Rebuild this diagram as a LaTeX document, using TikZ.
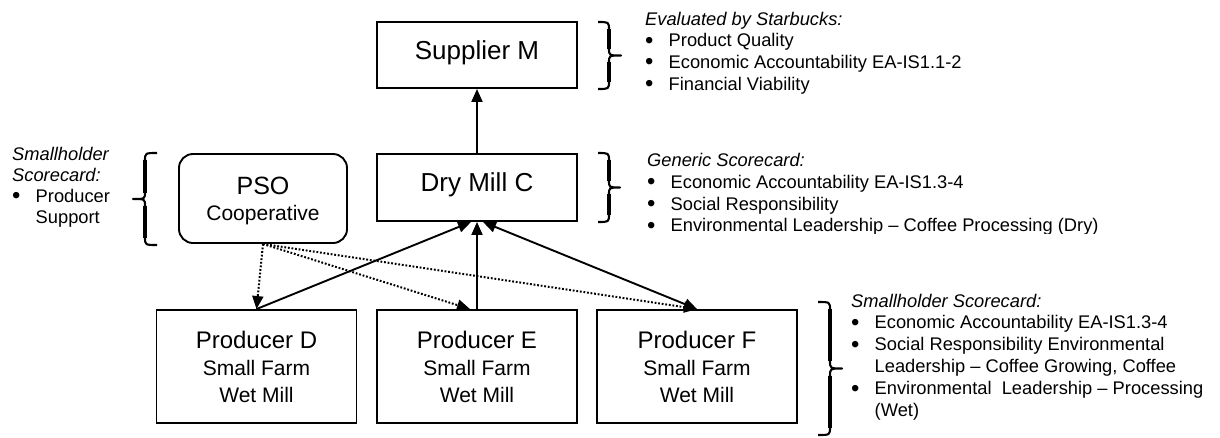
\documentclass[tikz,border=0pt]{standalone}
\usepackage{fontspec}
\setmainfont{Liberation Sans}
\usetikzlibrary{arrows.meta}
\newcommand{\bul}{\makebox[23.5pt][l]{\raisebox{-1.4pt}{\scalebox{1.3}{\textbullet}}}}
\newcommand{\ind}{\hspace*{23.5pt}}
\begin{document}
\begin{tikzpicture}[x=1pt,y=-1pt,
  box/.style={draw, line width=1.9pt, inner sep=0pt, minimum width=200pt, align=center},
  arr/.style={line width=1.9pt, -{Triangle[length=13pt,width=11pt]}},
  arrboth/.style={line width=1.9pt, {Triangle[length=13pt,width=11pt]}-{Triangle[length=13pt,width=11pt]}},
  dotarr/.style={line width=2pt, dash pattern=on 1.8pt off 1.8pt, -{Triangle[length=13pt,width=11pt]}},
  brc/.style={line width=2.1pt, line join=round},
  stem/.style={line width=3.2pt},
  note/.style={inner sep=0pt, anchor=base west, align=left}]
\useasboundingbox (0,0) rectangle (1220,437);

% boxes
\node[box, minimum height=66pt, text height=19pt, text depth=10.4pt] (M) at (477,55)
  {\fontsize{26}{30}\selectfont Supplier M};
\node[box, minimum height=67pt, text height=19pt, text depth=10.4pt] (C) at (477,187.5)
  {\fontsize{26}{30}\selectfont Dry Mill C};
\node[box, minimum width=168pt, minimum height=89pt, rounded corners=14pt, text height=20pt, text depth=28.4pt] (P) at (263,198.5)
  {\fontsize{21}{26}\selectfont\begin{tabular}[t]{@{}c@{}}\fontsize{25}{26}\selectfont PSO\\ Cooperative\end{tabular}};
\node[box, minimum height=113pt, text height=20pt, text depth=57pt] (D) at (256.5,366.5)
  {\fontsize{21}{27}\selectfont\begin{tabular}[t]{@{}c@{}}\fontsize{24}{27}\selectfont Producer D\\ Small Farm\\ Wet Mill\end{tabular}};
\node[box, minimum height=113pt, text height=20pt, text depth=57pt] (E) at (477,366.5)
  {\fontsize{21}{27}\selectfont\begin{tabular}[t]{@{}c@{}}\fontsize{24}{27}\selectfont Producer E\\ Small Farm\\ Wet Mill\end{tabular}};
\node[box, minimum height=113pt, text height=20pt, text depth=57pt] (F) at (697,366.5)
  {\fontsize{21}{27}\selectfont\begin{tabular}[t]{@{}c@{}}\fontsize{24}{27}\selectfont Producer F\\ Small Farm\\ Wet Mill\end{tabular}};

% connectors
\draw[arr] (C.north) -- (M.south);
\draw[arr] (D.north) -- ([xshift=-6pt]C.south);
\draw[arr] (E.north) -- (C.south);
\draw[arrboth] ([xshift=6pt]C.south) -- (F.north);
\draw[dotarr] (P.south) -- (D.north);
\draw[dotarr] (P.south) -- ([xshift=-7pt]E.north);
\draw[dotarr] (P.south) -- (F.north);

% braces
\draw[brc] (598,22) .. controls (609,22) .. (609,30) -- (609,48.5) .. controls (609,55.5) .. (621,55.5)
  .. controls (609,55.5) .. (609,62.5) -- (609,81) .. controls (609,89) .. (598,89);
\draw[stem] (609,29) -- (609,49) (609,62) -- (609,82);
\draw[brc] (598,153) .. controls (609,153) .. (609,161) -- (609,180.5) .. controls (609,187.5) .. (620,187.5)
  .. controls (609,187.5) .. (609,194.5) -- (609,214) .. controls (609,222) .. (598,222);
\draw[stem] (609,160) -- (609,181) (609,194) -- (609,215);
\draw[brc] (818,302) .. controls (830,302) .. (830,310) -- (830,360.5) .. controls (830,368.5) .. (842,368.5)
  .. controls (830,368.5) .. (830,376.5) -- (830,427) .. controls (830,435) .. (818,435);
\draw[stem] (830,309) -- (830,361) (830,376) -- (830,428);
\draw[brc] (157,153) .. controls (145,153) .. (145,161) -- (145,192) .. controls (145,199) .. (133,199)
  .. controls (145,199) .. (145,206) -- (145,237) .. controls (145,245) .. (157,245);
\draw[stem] (145,160) -- (145,192.5) (145,205.5) -- (145,238);

% notes
\node[note] (nl) at (12,160) {\fontsize{18.3}{21.2}\selectfont\begin{tabular}[t]{@{}l@{}}
  \textit{Smallholder}\\ \textit{Scorecard:}\\ \bul Producer\\ \ind Support\end{tabular}};
\node[note] (nt) at (645,25) {\fontsize{18.3}{21.7}\selectfont\begin{tabular}[t]{@{}l@{}}
  \textit{Evaluated by Starbucks:}\\ \bul Product Quality\\ \bul Economic Accountability EA-IS1.1-2\\ \bul Financial Viability\end{tabular}};
\begin{scope}
\clip (600,140) rectangle (1220,233.2);
\node[note] (ng) at (647,166.5) {\fontsize{18.3}{21.8}\selectfont\begin{tabular}[t]{@{}l@{}}
  \textit{Generic Scorecard:}\\ \bul Economic Accountability EA-IS1.3-4\\ \bul Social Responsibility\\ \bul Environmental Leadership – Coffee Processing (Dry)\end{tabular}};
\end{scope}
\node[note] (nb) at (851,307) {\fontsize{18.3}{21.9}\selectfont\begin{tabular}[t]{@{}l@{}}
  \textit{Smallholder Scorecard:}\\ \bul Economic Accountability EA-IS1.3-4\\ \bul Social Responsibility Environmental\\ \ind Leadership – Coffee Growing, Coffee\\ \bul Environmental\ \ Leadership – Processing\\ \ind (Wet)\end{tabular}};
\end{tikzpicture}
\end{document}
